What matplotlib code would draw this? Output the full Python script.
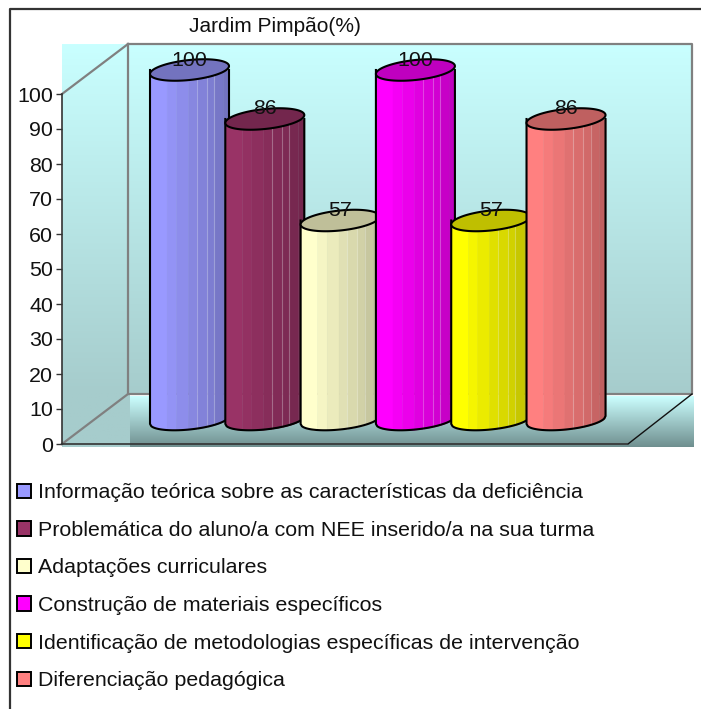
import numpy as np
import matplotlib
matplotlib.use('agg')
import matplotlib.pyplot as plt
from matplotlib.colors import LinearSegmentedColormap, to_rgb
from matplotlib.patches import Patch
from matplotlib.transforms import ScaledTranslation

plt.rcParams['font.family'] = ['Liberation Sans', 'DejaVu Sans']

title = 'Jardim Pimpão(%)'
series_names = [
    'Informação teórica sobre as características da deficiência',
    'Problemática do aluno/a com NEE inserido/a na sua turma',
    'Adaptações curriculares',
    'Construção de materiais específicos',
    'Identificação de metodologias específicas de intervenção',
    'Diferenciação pedagógica',
]
values = [100, 86, 57, 100, 57, 86]
colors = ['#9999FF', '#993366', '#FFFFCC', '#FF00FF', '#FFFF00', '#FF8080']
yticks = list(range(0, 101, 10))

W, H = 701, 709
GREY = '#808080'
INK = '#111111'

# shading bands across one cylinder, left to right
band_edges = [0, .21, .33, .48, .59, .72, .81, .92, 1]
band_shade = [1, .96, .92, .88, .85, .82, .78, .75]
sheen_at = [.59, .72, .81]

fig = plt.figure(figsize=(W / 100, H / 100), dpi=100, facecolor='white')

# chart furniture, in pixels
bg = fig.add_axes([0, 0, 1, 1], zorder=0)
bg.set_xlim(0, W)
bg.set_ylim(H, 0)
bg.axis('off')

wall = LinearSegmentedColormap.from_list('wall', ['#C9FFFF', '#A6CCCC'])
floor = LinearSegmentedColormap.from_list('floor', ['#CCFFFF', '#6F8F8F'])
ramp = np.linspace(0, 1, 256).reshape(-1, 1)
left_ramp = np.clip(np.linspace(0, 403 / 350, 256), 0, 1).reshape(-1, 1)
bg.imshow(left_ramp, cmap=wall, extent=(62, 130, 447, 44), aspect='auto', vmin=0, vmax=1)
bg.imshow(ramp, cmap=wall, extent=(128, 692, 394, 44), aspect='auto')
bg.imshow(ramp, cmap=floor, extent=(130, 694, 447, 396), aspect='auto')
bg.set_xlim(0, W)
bg.set_ylim(H, 0)

bg.plot([128, 692, 692, 128, 128], [44, 44, 394, 394, 44], color=GREY, lw=1.6)
bg.plot([62, 128], [94, 44], color=GREY, lw=1.6)
bg.plot([62, 128], [444, 394], color=GREY, lw=1.6)
bg.plot([628, 692], [444, 394], color=INK, lw=1)
bg.plot([10, 10, W], [H, 9, 9], color='#333333', lw=1.6)
bg.text(275, 27, title, fontsize=15, ha='center', va='center', color=INK)

# front plane of the 3D box: value axis and one cluster of six cylinders
ax = fig.add_axes([62 / W, 1 - 444 / H, 565 / W, 350 / H], zorder=1)
ax.patch.set_visible(False)
ax.set_xlim(-1.255, 6.248)
ax.set_ylim(0, 100)
for side in ('top', 'right'):
    ax.spines[side].set_visible(False)
ax.spines['left'].set_color('#333333')
ax.spines['bottom'].set_color('#333333')
ax.spines['left'].set_linewidth(1.2)
ax.spines['bottom'].set_linewidth(1.2)
ax.set_xticks([])
ax.set_yticks(yticks)
ax.tick_params(axis='y', length=4.5, width=1, color='#333333', labelsize=15.4,
               labelcolor=INK, pad=2)

# cylinders sit half way into the box
depth = ax.transData + ScaledTranslation(33 / 100, 24 / 100, fig.dpi_scale_trans)
px_x = 565 / 7.503
px_y = 3.5
half_w = 39.5 / px_x

t = np.linspace(0, 2 * np.pi, 120)
for i, (v, c) in enumerate(zip(values, colors)):
    z = 3 + i
    rgb = np.array(to_rgb(c))

    def lower(x):
        dx = (x - i) * px_x
        return (-9.5 * np.sqrt(np.clip(1 - (dx / 39.5) ** 2, 0, 1)) + 0.1 * dx) / px_y

    for a, b, s in zip(band_edges[:-1], band_edges[1:], band_shade):
        xs = np.linspace(i - half_w + 2 * half_w * a, i - half_w + 2 * half_w * b, 12)
        ax.fill_between(xs, lower(xs), v, color=rgb * s, lw=0.3, transform=depth,
                        zorder=z, clip_on=False)
    for f in sheen_at:
        xf = i - half_w + 2 * half_w * f
        ax.plot([xf, xf], [lower(xf), v], color='white', alpha=.25, lw=.8,
                transform=depth, zorder=z, clip_on=False)

    # outline of the side and the base
    xb = np.linspace(i - half_w, i + half_w, 60)
    ax.plot(np.r_[i - half_w, xb, i + half_w], np.r_[v, lower(xb), v], color='black', lw=1.5,
            transform=depth, zorder=z, clip_on=False)

    # top face
    dx = 39.5 * np.cos(t)
    dy = 10 * np.sin(t) + 0.1 * dx
    ax.fill(i + dx / px_x, v + dy / px_y, facecolor=rgb * .75, edgecolor='black', lw=1.5,
            transform=depth, zorder=z, clip_on=False)

    ax.text(i, v, str(v), fontsize=15.4, ha='center', va='center', color=INK, zorder=20,
            transform=ax.transData + ScaledTranslation(33 / 100, 34 / 100, fig.dpi_scale_trans),
            clip_on=False)

handles = [Patch(facecolor=c, edgecolor='black', lw=1.4) for c in colors]
fig.legend(handles, series_names, loc='upper left', bbox_to_anchor=(13 / W, 1 - 479 / H),
           frameon=False, fontsize=15.4, labelcolor=INK, labelspacing=.87,
           handlelength=.65, handleheight=.65, handletextpad=.3, borderpad=.2, borderaxespad=0)

fig.savefig('out.png', dpi=100)
